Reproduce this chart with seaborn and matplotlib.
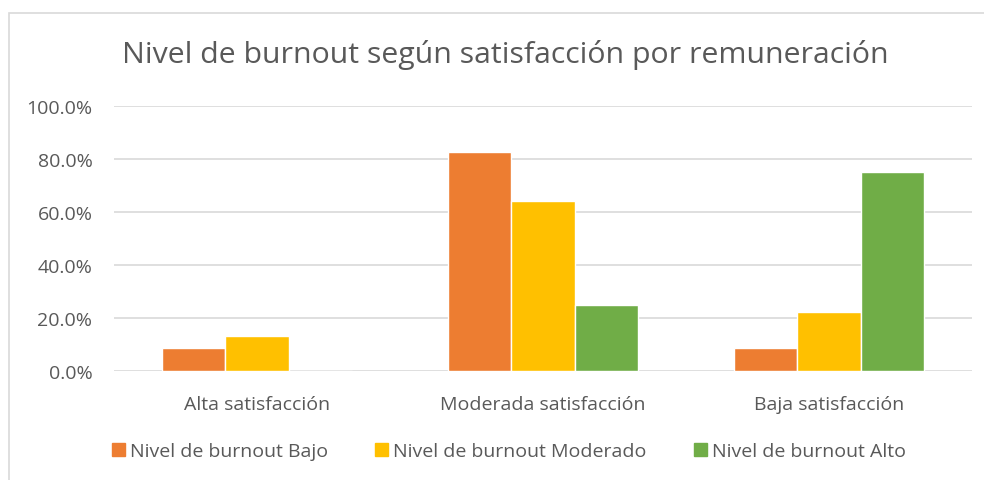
import matplotlib.pyplot as plt
import matplotlib.patches as mpatches
import pandas as pd
import seaborn as sns

# Data (percent)
categorias = ["Alta satisfacción", "Moderada satisfacción", "Baja satisfacción"]
series = ["Nivel de burnout Bajo", "Nivel de burnout Moderado", "Nivel de burnout Alto"]
bajo = [8.7, 82.6, 8.7]
moderado = [13.2, 64.0, 22.4]
alto = [0.0, 25.0, 75.0]
colores = ["#ED7D31", "#FFC000", "#70AD47"]

rows = []
for s, vals in zip(series, [bajo, moderado, alto]):
    for c, v in zip(categorias, vals):
        rows.append({"Satisfacción": c, "Serie": s, "Valor": v})
df = pd.DataFrame(rows)

sns.set_style("white")
plt.rcParams['font.family'] = ['Open Sans', 'DejaVu Sans']
text_color = "#595959"

fig = plt.figure(figsize=(9.84, 4.81), dpi=100)
ax = fig.add_axes([114 / 984, 1 - 372 / 481, (972 - 114) / 984, (372 - 106.5) / 481])

sns.barplot(data=df, x="Satisfacción", y="Valor", hue="Serie", order=categorias,
            hue_order=series, palette=colores, width=0.665, saturation=1,
            ax=ax, legend=False)

ax.set_ylim(0, 100)
ax.set_yticks([0, 20, 40, 60, 80, 100])
ax.set_yticklabels([f"{t:.1f}%" for t in [0, 20, 40, 60, 80, 100]])
ax.yaxis.grid(True, color="#D9D9D9", linewidth=1.2)
ax.set_axisbelow(True)
for sp in ax.spines.values():
    sp.set_visible(False)
ax.tick_params(axis="both", length=0, labelsize=14, colors=text_color)
ax.tick_params(axis="y", pad=15.5)
ax.tick_params(axis="x", pad=17)
ax.set_xlabel("")
ax.set_ylabel("")

fig.text(505 / 984, 1 - 55 / 481, "Nivel de burnout según satisfacción por remuneración",
         ha="center", va="center", fontsize=21.8, color=text_color)

handles = [mpatches.Patch(color=c, label=s) for c, s in zip(colores, series)]
fig.legend(handles=handles, loc="center", bbox_to_anchor=(509 / 984, 1 - 452 / 481),
           ncol=3, frameon=False, fontsize=14, labelcolor=text_color,
           handlelength=0.67, handleheight=0.67, handletextpad=0.26, columnspacing=2.42)

# light chart-area border
fig.add_artist(mpatches.Rectangle((8.5 / 984, -0.01), 1.2, 1 - 14 / 481 + 0.01,
                                  transform=fig.transFigure, fill=False,
                                  edgecolor="#D9D9D9", linewidth=1.2))

plt.savefig("out.png", dpi=100)
